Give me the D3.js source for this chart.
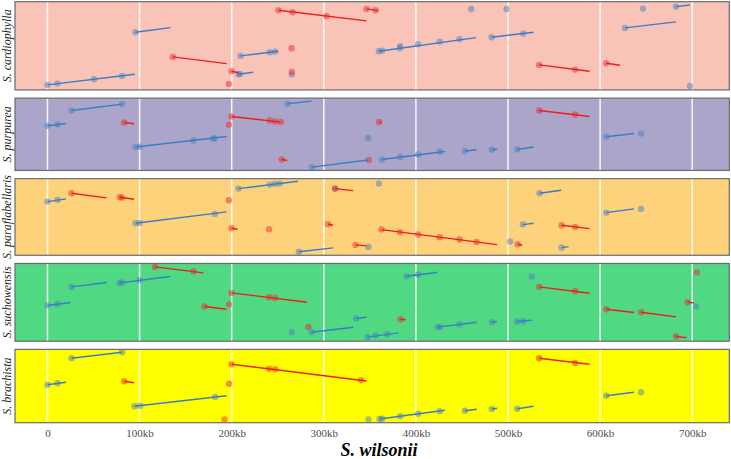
<!DOCTYPE html>
<html><head><meta charset="utf-8">
<script src="https://cdn.jsdelivr.net/npm/d3@7"></script>
<style>body{margin:0;background:#fff}svg{display:block}
text{font-family:"Liberation Serif","Times New Roman",serif}</style>
</head><body>
<svg id="c" width="731" height="459"></svg>
<script>
// ---- data (kb) ----
const species = ["S. cardiophylla","S. purpurea","S. paraflabellaris","S. suchowensis","S. brachista"];
const genomeSizes = [722, 592, 627, 636, 600];
const panelColors = ["#F9C3B8","#AAA5C9","#FDD27B","#51D882","#FFFF00"];
const xTicks = [0,100,200,300,400,500,600,700];
const xTickLabels = ["0","100kb","200kb","300kb","400kb","500kb","600kb","700kb"];
// points: [x, y, strand]
const cardiophyllaPoints = [[0,9,"+"],[10.9,21,"+"],[50.6,60,"+"],[81,90,"+"],[95.6,483,"+"],[207.4,105,"+"],[208.8,108,"+"],[209.6,270,"+"],[241.4,303,"+"],[247.2,309,"+"],[265.3,102,"+"],[359.8,312,"+"],[363.3,318,"+"],[382.6,339,"+"],[382.9,357,"+"],[402.4,375,"+"],[425.9,399,"+"],[447.4,420,"+"],[482.2,438,"+"],[516.5,471,"+"],[460,693,"+"],[498.4,693,"+"],[627,522,"+"],[646.6,696,"+"],[682.3,714,"+"],[697.5,0,"+"],
 [136.1,261,"-"],[199.8,132,"-"],[196.9,18,"-"],[265,339,"-"],[265.3,126,"-"],[250.8,681,"-"],[266.1,663,"-"],[303,627,"-"],[346.4,693,"-"],[356.2,681,"-"],[533.8,189,"-"],[572.9,147,"-"],[606.6,204,"-"]];
const cardiophyllaSegments = [[0,9,94.8,105,"+"],[95.6,483,133.6,525,"+"],[136.1,261,194.4,201,"-"],[199.8,132,207.4,118,"-"],[207.4,105,223.3,123,"+"],[209.6,270,250.4,312,"+"],[250.8,681,346.4,585,"-"],[346.4,693,359,678,"-"],[359.8,312,465.4,435,"+"],[482.2,438,527.8,483,"+"],[533.8,189,588.6,132,"-"],[606.6,204,621.5,186,"-"],[627,522,682.3,576,"+"],[682.3,714,697.5,729,"+"]];
const purpureaPoints = [[0,373,"+"],[10.9,384,"+"],[26.1,510,"+"],[81,568,"+"],[95.6,181,"+"],[100.2,184,"+"],[158.5,240,"+"],[179.8,258,"+"],[181.5,259,"+"],[260.6,571,"+"],[287,0,"+"],[348.1,262,"+"],[363.3,69,"+"],[382.9,91,"+"],[402.4,114,"+"],[425.9,139,"+"],[453.1,145,"+"],[482.5,157,"+"],[509.9,159,"+"],[606.6,274,"+"],[644.4,303,"+"],
 [83.2,402,"-"],[199.8,456,"-"],[196.9,382,"-"],[241.4,420,"-"],[247.2,411,"-"],[253.3,406,"-"],[254.4,69,"-"],[348.9,64,"-"],[360.1,406,"-"],[533.8,510,"-"],[572.9,474,"-"]];
const purpureaSegments = [[0,373,20.2,393,"+"],[26.1,510,81,568,"+"],[83.2,402,94,391,"-"],[95.6,181,194.4,276,"+"],[199.8,456,253,406,"-"],[260.6,571,286.7,595,"+"],[254.4,69,260.2,60,"-"],[287,0,348.1,64,"+"],[360.1,406,362.7,403,"-"],[363.3,69,431.4,141,"+"],[453.1,145,465.9,157,"+"],[482.5,157,488.2,163,"+"],[509.9,159,527.8,181,"+"],[533.8,510,588.6,456,"-"],[606.6,274,636.8,303,"+"]];
const paraflabellarisPoints = [[0,452,"+"],[10.9,467,"+"],[95.6,257,"+"],[100.2,260,"+"],[181.7,341,"+"],[207.4,569,"+"],[241.4,605,"+"],[247.2,611,"+"],[252.3,614,"+"],[272.9,0,"+"],[348.5,44,"+"],[359.8,614,"+"],[312.3,569,"+"],[502.3,92,"+"],[516.1,245,"+"],[534.3,527,"+"],[558.2,38,"+"],[606.6,353,"+"],[644.4,386,"+"],
 [26.1,527,"-"],[78.5,491,"-"],[81,488,"-"],[196.9,464,"-"],[199.8,212,"-"],[240.6,203,"-"],[312.3,569,"-"],[304.7,248,"-"],[334.5,62,"-"],[362.7,200,"-"],[382.9,176,"-"],[402.4,155,"-"],[425.9,131,"-"],[447.4,110,"-"],[465.9,89,"-"],[510.4,68,"-"],[558.2,239,"-"],[572.9,224,"-"]];
const paraflabellarisSegments = [[0,452,20.2,476,"+"],[26.1,527,64.1,485,"-"],[78.5,491,94,473,"-"],[95.6,257,194.4,359,"+"],[207.4,569,272.1,635,"+"],[199.8,212,206.3,203,"-"],[312.3,569,331.9,551,"-"],[304.7,248,310.1,239,"-"],[272.9,0,310.1,35,"+"],[334.5,62,346.4,53,"-"],[362.7,200,488.2,65,"-"],[510.4,68,515.4,59,"-"],[534.3,527,557.7,554,"+"],[516.1,245,527.8,257,"+"],[558.2,239,588.6,209,"-"],[558.2,38,565.8,47,"+"],[606.6,353,636.8,386,"+"]];
const suchowensisPoints = [[0,290,"+"],[10.9,304,"+"],[26.1,457,"+"],[78.5,493,"+"],[81,497,"+"],[100.2,517,"+"],[265.3,49,"+"],[286.7,49,"+"],[335.1,173,"+"],[347.5,5,"+"],[356.2,20,"+"],[368.8,31,"+"],[389.8,553,"+"],[402.4,569,"+"],[423.5,95,"+"],[425.9,97,"+"],[447.4,121,"+"],[482.5,139,"+"],[509.9,146,"+"],[516.5,148,"+"],[525.7,551,"+"],[704.3,281,"+"],
 [116.8,637,"-"],[158.5,598,"-"],[170.5,281,"-"],[197.2,299,"-"],[199.8,403,"-"],[240.6,364,"-"],[247.2,358,"-"],[283.4,97,"-"],[383.3,166,"-"],[533.8,457,"-"],[572.9,418,"-"],[606.6,256,"-"],[644.4,229,"-"],[682.3,10,"-"],[695,319,"-"],[705.1,587,"-"]];
const suchowensisSegments = [[0,290,25,317,"+"],[26.1,457,64.4,497,"+"],[78.5,493,133.1,551,"+"],[116.8,637,169.4,583,"-"],[170.5,281,194.4,256,"-"],[199.8,403,281.9,319,"-"],[286.7,49,331.9,94,"+"],[335.1,173,346.4,184,"+"],[347.5,5,381.2,43,"+"],[383.3,166,389.1,160,"-"],[389.8,553,422.7,587,"+"],[423.5,95,465.9,139,"+"],[482.5,139,488.2,146,"+"],[509.9,146,525.7,157,"+"],[533.8,457,588.6,400,"-"],[606.6,256,636.8,227,"-"],[644.4,229,682.3,187,"-"],[682.3,10,693.9,0,"-"],[695,319,701.8,313,"-"]];
const brachistaPoints = [[0,312,"+"],[10.9,325,"+"],[26.1,550,"+"],[81,604,"+"],[94.5,118,"+"],[100.6,123,"+"],[182,201,"+"],[348.5,0,"+"],[360.5,3,"+"],[363.3,6,"+"],[382.9,28,"+"],[402.4,51,"+"],[425.9,73,"+"],[453.1,78,"+"],[482.5,93,"+"],[509.9,96,"+"],[606.6,213,"+"],[644.4,244,"+"],
 [83.2,343,"-"],[197.2,321,"-"],[192.2,0,"-"],[199.8,496,"-"],[240.6,456,"-"],[247.2,451,"-"],[340.5,352,"-"],[533.8,550,"-"],[572.9,507,"-"]];
const brachistaSegments = [[0,312,20.2,334,"+"],[26.1,550,81,604,"+"],[83.2,343,94,330,"-"],[94.5,118,194.4,213,"+"],[199.8,496,346.4,345,"-"],[360.5,3,431.4,82,"+"],[453.1,78,465.9,91,"+"],[482.5,93,488.2,100,"+"],[509.9,96,527.8,118,"+"],[533.8,550,588.6,496,"-"],[606.6,213,636.8,244,"+"]];

const panelPoints = [cardiophyllaPoints, purpureaPoints, paraflabellarisPoints, suchowensisPoints, brachistaPoints];
const panelSegments = [cardiophyllaSegments, purpureaSegments, paraflabellarisSegments, suchowensisSegments, brachistaSegments];

// ---- layout ----
const svg = d3.select("#c");
const left = 15, right = 729.3, top0 = 1.7, bottom0 = 422.7, gap = 8.2;
const x = d3.scaleLinear().domain([-35.25, 740.25]).range([left, right]);
const spans = genomeSizes.map(s => s * 1.1);
const totalH = bottom0 - top0 - gap * (species.length - 1);
const pxPerKb = totalH / d3.sum(spans);
const strandColor = {"+": "#3a7dc6", "-": "#ee1d1d"};
const pointColor = {"+": "#4a7fc0", "-": "#ee2a2a"};
const serif = "'Liberation Serif','Times New Roman',serif";

let yTop = top0;
species.forEach((name, i) => {
  const h = spans[i] * pxPerKb;
  const s = genomeSizes[i];
  const y = d3.scaleLinear().domain([-0.05 * s, 1.05 * s]).range([yTop + h, yTop]);
  const g = svg.append("g");
  g.append("rect").attr("x", left).attr("y", yTop).attr("width", right - left).attr("height", h)
    .attr("fill", panelColors[i]);
  g.selectAll("line.grid").data(xTicks).join("line").attr("class", "grid")
    .attr("x1", d => x(d)).attr("x2", d => x(d)).attr("y1", yTop).attr("y2", yTop + h)
    .attr("stroke", "#ffffff").attr("stroke-opacity", 0.85).attr("stroke-width", 1.6);
  g.selectAll("circle").data(panelPoints[i]).join("circle")
    .attr("cx", d => x(d[0])).attr("cy", d => y(d[1])).attr("r", 3.2)
    .attr("fill", d => pointColor[d[2]]).attr("fill-opacity", 0.5);
  g.selectAll("line.seg").data(panelSegments[i]).join("line").attr("class", "seg")
    .attr("x1", d => x(d[0])).attr("y1", d => y(d[1])).attr("x2", d => x(d[2])).attr("y2", d => y(d[3]))
    .attr("stroke", d => strandColor[d[4]]).attr("stroke-width", 1.4);
  g.append("rect").attr("x", left).attr("y", yTop).attr("width", right - left).attr("height", h)
    .attr("fill", "none").attr("stroke", "#6b6b6b").attr("stroke-width", 1.2);
  g.append("text").attr("transform", `translate(10.5,${yTop + h / 2}) rotate(-90)`)
    .attr("text-anchor", "middle").style("font-family", serif)
    .attr("font-style", "italic").attr("font-size", 12).attr("fill", "#262626").text(name);
  yTop += h + gap;
});

const axis = d3.axisBottom(x).tickValues(xTicks).tickFormat((d, i) => xTickLabels[i]).tickSize(0).tickPadding(7);
const ax = svg.append("g").attr("transform", `translate(0,${bottom0})`).call(axis);
ax.select(".domain").remove();
ax.selectAll("text").style("font-family", serif).attr("font-size", 11).attr("fill", "#4d4d4d");

svg.append("text").attr("x", 379).attr("y", 456).attr("text-anchor", "middle")
  .style("font-family", serif).attr("font-style", "italic").attr("font-weight", "bold")
  .attr("font-size", 18).attr("fill", "#000").text("S. wilsonii");
</script>
</body></html>
